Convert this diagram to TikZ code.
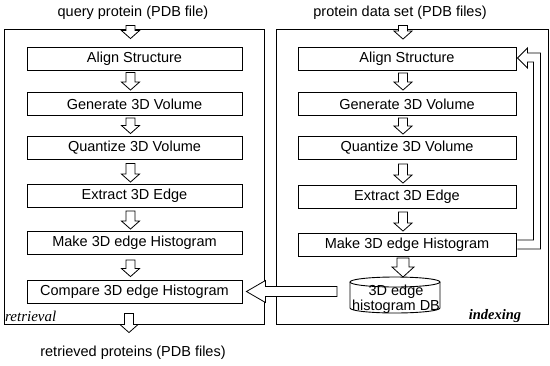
\documentclass[tikz,border=0pt]{standalone}
\usepackage{fontspec}
\setmainfont{Liberation Sans}
\newfontfamily\serifit{Liberation Serif}
\usetikzlibrary{calc}

\tikzset{
  stepbox/.style={draw, line width=0.9pt, minimum height=23pt, inner sep=0pt,
    font=\fontsize{14.5}{16}\selectfont},
  lbox/.style={stepbox, minimum width=215pt},
  rbox/.style={stepbox, minimum width=218pt},
  panel/.style={draw, line width=0.9pt},
  hollow/.style={draw, line width=0.8pt, fill=white, line join=miter},
  title/.style={font=\fontsize{14.5}{16}\selectfont, inner sep=0pt},
}

% hollow downward arrow between two named nodes (#2 -> #3), gaps #4, #5
\newcommand\hdown[5][hollow]{%
  \path[#1] let \p1=(#2.south), \p2=(#3.north) in
    (\x2-8.5pt,\y1-#4pt) -- (\x2+0.5pt,\y1-#4pt) -- (\x2+0.5pt,\y2+#5pt+8pt)
    -- (\x2+5pt,\y2+#5pt+8pt) -- (\x2-4pt,\y2+#5pt) -- (\x2-13pt,\y2+#5pt+8pt)
    -- (\x2-8.5pt,\y2+#5pt+8pt) -- cycle;
}

\begin{document}
\begin{tikzpicture}[x=1pt,y=-1pt]
\useasboundingbox (0,0) rectangle (550,365);

% panels
\draw[panel] (4,29) rectangle (264,324);
\draw[panel] (276,29) rectangle (548,324);

% titles
\node[title] (qin) at (133,13) {query protein (PDB file)};
\node[title] (din) at (400,13) {protein data set (PDB files)};
\node[title] (out) at (133,353) {retrieved proteins (PDB files)};

% left column (retrieval)
\node[lbox] (lal) at (134.5,58.5) {Align Structure};
\node[lbox] (lgv) at (134.5,104) {Generate 3D Volume};
\node[lbox] (lqv) at (134.5,147.5) {Quantize 3D Volume};
\node[lbox] (lex) at (134.5,196) {Extract 3D Edge};
\node[lbox] (lmk) at (134.5,243) {Make 3D edge Histogram};
\node[lbox] (cmp) at (134.5,291.5) {Compare 3D edge Histogram};

% right column (indexing)
\node[rbox] (ral) at (407,59) {Align Structure};
\node[rbox] (rgv) at (407,104) {Generate 3D Volume};
\node[rbox] (rqv) at (407,148) {Quantize 3D Volume};
\node[rbox] (rex) at (407,197) {Extract 3D Edge};
\node[rbox] (rmk) at (407,245) {Make 3D edge Histogram};

% database cylinder
\draw[line width=0.9pt] (350,282) -- (350,308) arc[start angle=180, end angle=360, x radius=45pt, y radius=5pt] -- (440,282);
\draw[line width=0.9pt] (395,282) ellipse[x radius=45pt, y radius=5pt];
\node[font=\fontsize{14.5}{15}\selectfont, align=center, inner sep=0pt] (db) at (396,299) {3D edge\\histogram DB};
\coordinate (dbw) at (337,291.5);
\coordinate (dbtop) at (407,277);

% panel labels
\node[anchor=base west, inner sep=0pt, font=\serifit\itshape\fontsize{15}{16}\selectfont] (ret) at (5,321) {retrieval};
\node[anchor=base, inner sep=0pt, font=\serifit\itshape\bfseries\fontsize{14.5}{16}\selectfont] (idx) at (495,319) {indexing};

% vertical hollow arrows, left
\hdown{qin}{lal}{5.5}{8}
\hdown{lal}{lgv}{2}{2}
\hdown{lgv}{lqv}{2}{2}
\hdown{lqv}{lex}{4}{2}
\hdown{lex}{lmk}{3}{2}
\hdown{lmk}{cmp}{5}{3}
\hdown{cmp}{out}{10}{13.5}

% vertical hollow arrows, right
\hdown{din}{ral}{5.5}{8}
\hdown{ral}{rgv}{2}{2}
\hdown{rgv}{rqv}{2}{2}
\hdown{rqv}{rex}{4}{2}
\hdown{rex}{rmk}{3}{2}

% Make -> DB (wider hollow arrow)
\path[hollow] let \p1=(rmk.south), \p2=(dbtop) in
  (\x1-10pt,\y1-1pt) -- (\x1+2pt,\y1-1pt) -- (\x1+2pt,\y2+10pt) -- (\x1+7pt,\y2+10pt)
  -- (\x1-4pt,\y2) -- (\x1-15pt,\y2+10pt) -- (\x1-10pt,\y2+10pt) -- cycle;

% DB -> Compare (large hollow arrow)
\path[hollow] let \p1=(dbw), \p2=(cmp.east) in
  (\x1,\y2+5pt) -- (\x2+23pt,\y2+5pt) -- (\x2+23pt,\y2+11pt) -- (\x2+4pt,\y2)
  -- (\x2+23pt,\y2-11pt) -- (\x2+23pt,\y2-5pt) -- (\x1,\y2-5pt) -- cycle;

% feedback pipe: Make -> Align (right)
\path[draw, line width=0.9pt, line join=miter] let \p1=(rmk.east), \p2=(ral.east) in
  (\x1+1pt,\y1+5pt) -- (\x1+17pt,\y1+5pt) -- (\x1+17pt,\y2-3pt) -- (\x1+11pt,\y2-3pt)
  -- (\x1+11pt,\y2-9pt) -- (\x1+1pt,\y2+1pt) -- (\x1+11pt,\y2+11pt) -- (\x1+11pt,\y2+6pt)
  -- (\x1+24pt,\y2+6pt) -- (\x1+24pt,\y1-4pt) -- (\x1+1pt,\y1-4pt);
\end{tikzpicture}
\end{document}
